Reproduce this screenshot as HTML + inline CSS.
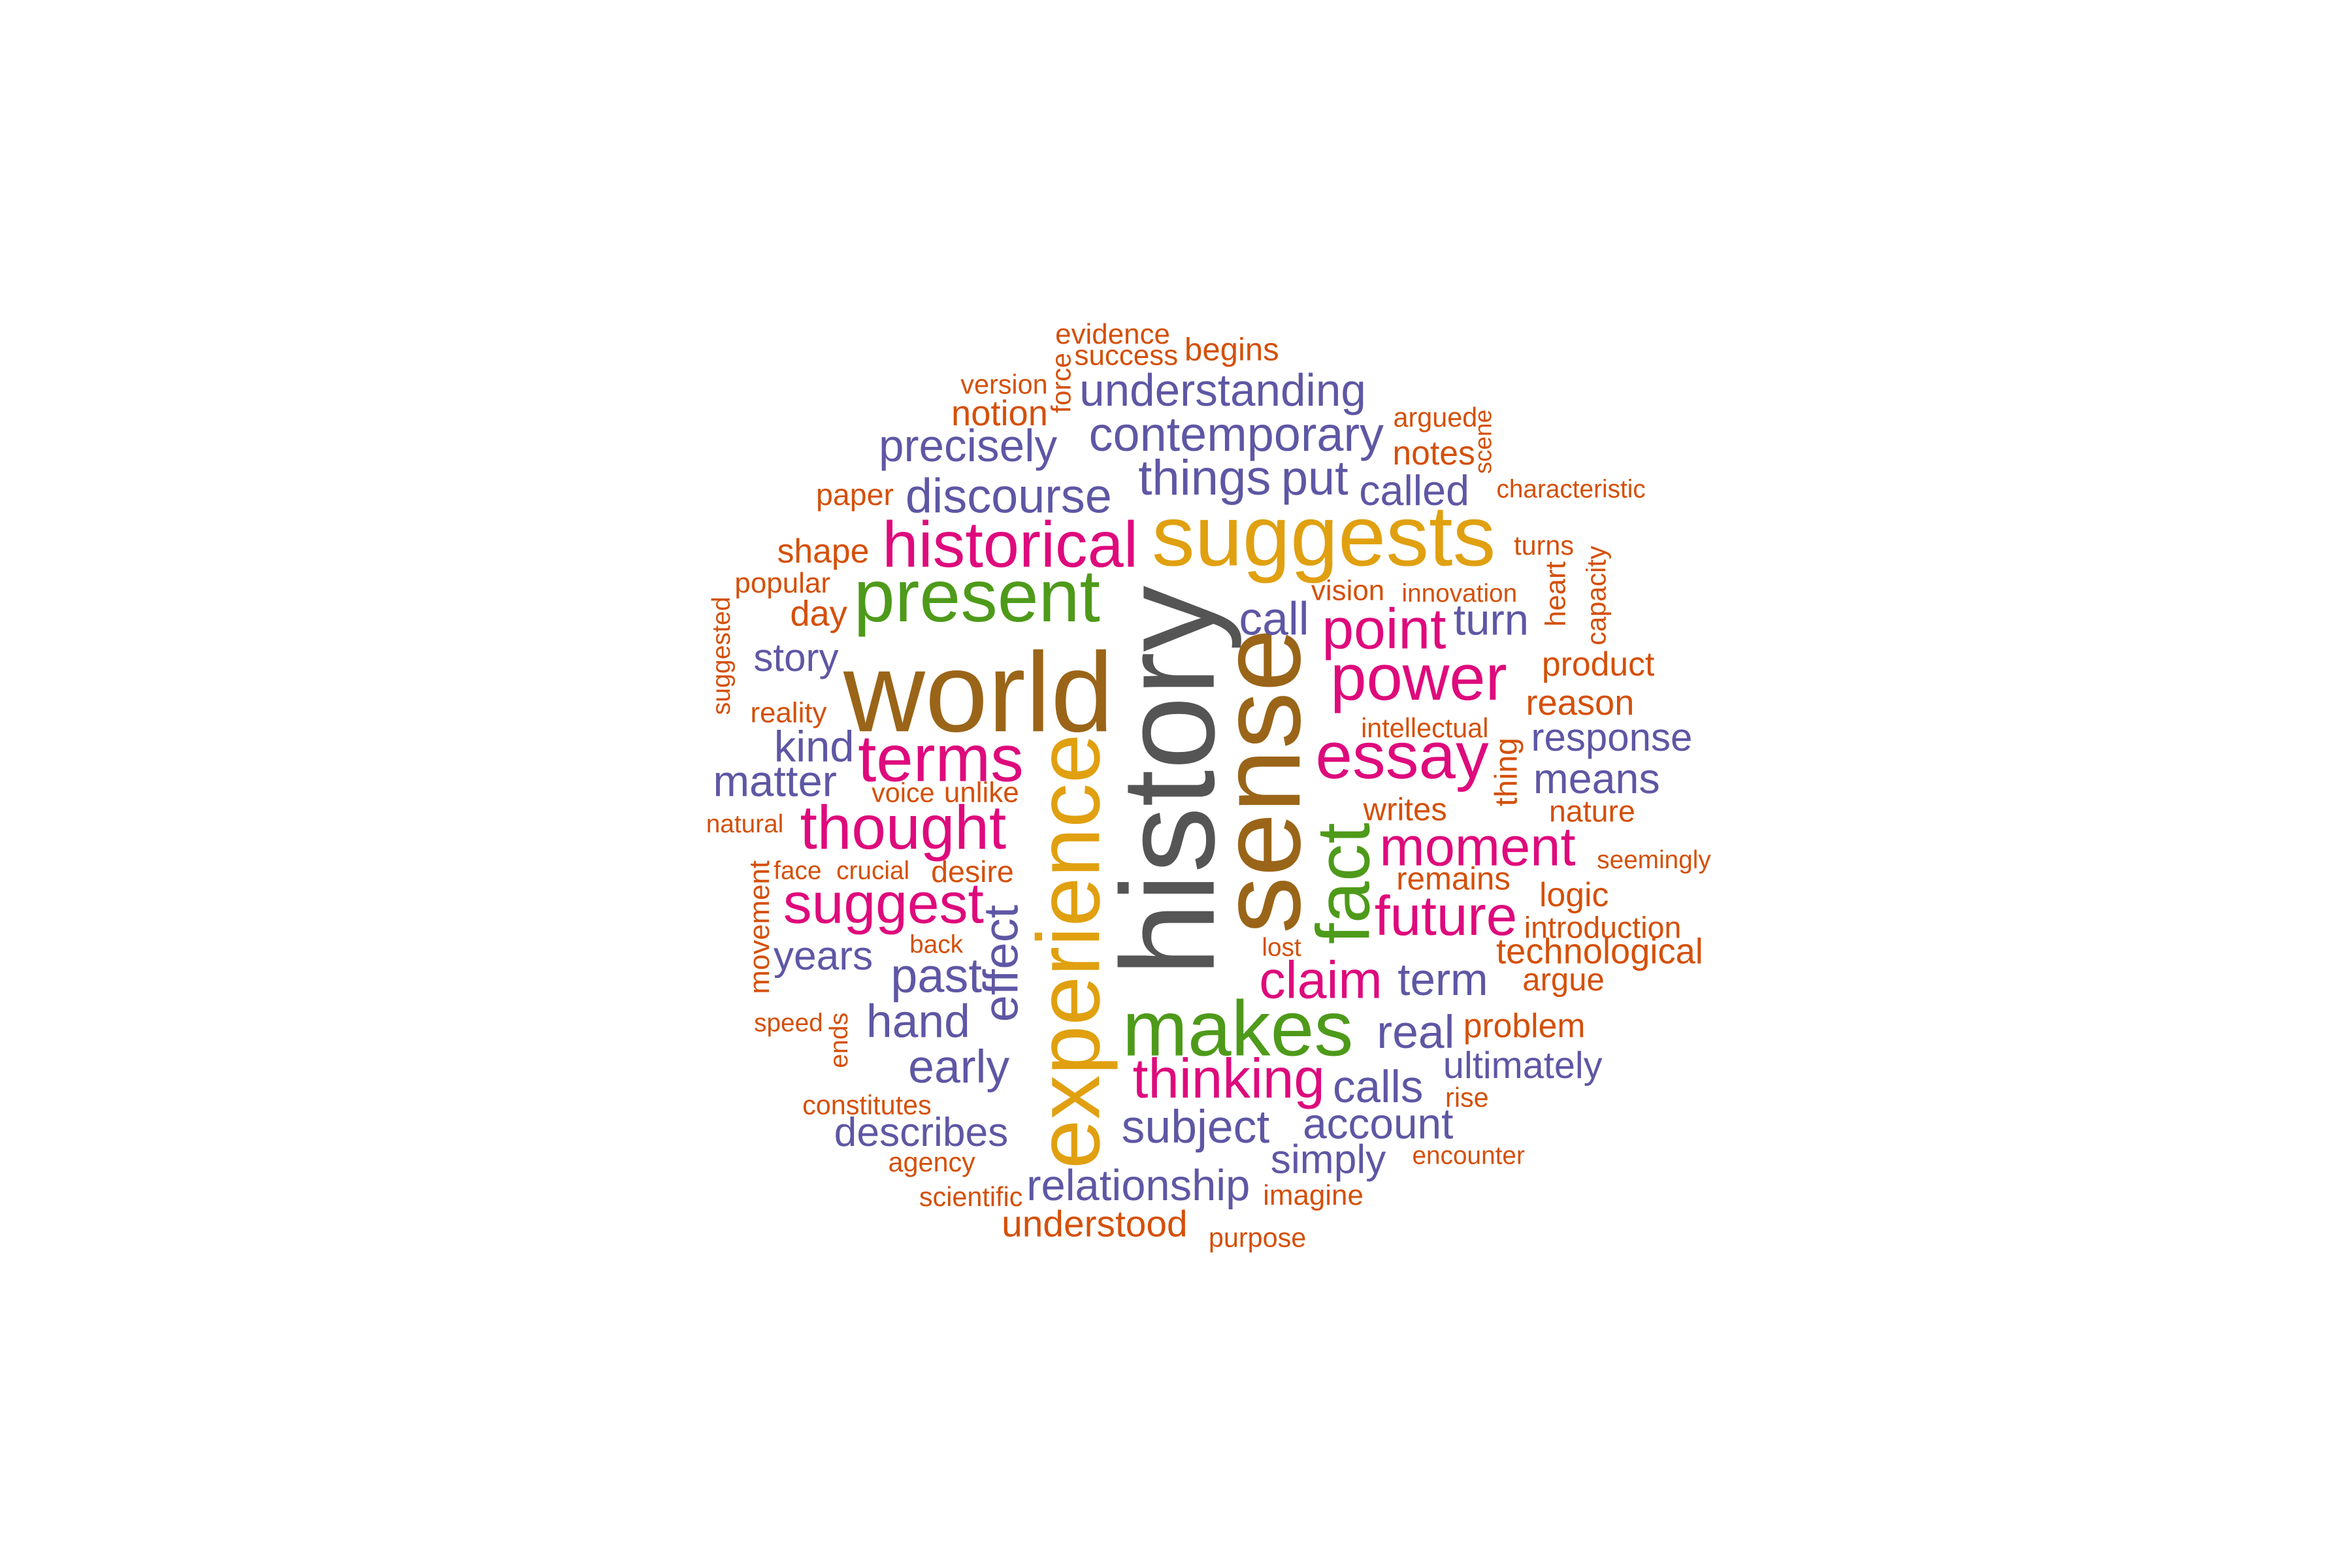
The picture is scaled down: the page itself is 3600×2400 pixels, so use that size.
<!DOCTYPE html>
<html><head><meta charset="utf-8"><title>Word cloud</title>
<style>html,body{margin:0;padding:0;background:#fff;}svg{display:block;}</style>
</head><body>
<svg id="cloud" width="3600" height="2400" viewBox="0 0 1560 1040" xmlns="http://www.w3.org/2000/svg">
<rect width="1560" height="1040" fill="#ffffff"/>
<g id="words" transform="translate(-3,-2)"></g>
</svg>
<script>
const words = ["history","sense","world","suggests","experience","makes","present","fact","historical","terms","thought","power","essay","point","moment","future","suggest","claim","thinking","effect","call","understanding","contemporary","things","put","called","precisely","discourse","turn","story","kind","matter","years","past","hand","early","term","real","calls","subject","account","simply","relationship","describes","response","means","ultimately","evidence","success","begins","force","version","notion","argued","scene","notes","characteristic","paper","shape","turns","popular","vision","innovation","heart","capacity","day","suggested","product","reality","reason","intellectual","thing","voice","unlike","natural","writes","nature","seemingly","face","crucial","desire","movement","remains","logic","introduction","back","lost","technological","argue","speed","ends","problem","rise","constitutes","agency","encounter","scientific","imagine","understood","purpose"];
const counts = [88,76,75,57,59,52,49,50,43,44,41,43,44,38,36,37,38,35,37,32,31,30,32,33,32,28,30,32,29,26,29,29,27,32,31,31,30,31,30,31,28.5,27,29,27,26,28,25,17,17,19,18,16,21,16,16,20,15,18,20,16,17,17,15,19,18,21,17,20,17,21,16,21,16,17,15,19,18,15,15,15,18,19,19,20,18,15,15,21,19,15,17,20,16,16,16,15,16,17,22,16];
const groups = [7,6,6,5,5,4,4,4,3,3,3,3,3,3,3,3,3,3,3,2,2,2,2,2,2,2,2,2,2,2,2,2,2,2,2,2,2,2,2,2,2,2,2,2,2,2,2,1,1,1,1,1,1,1,1,1,1,1,1,1,1,1,1,1,1,1,1,1,1,1,1,1,1,1,1,1,1,1,1,1,1,1,1,1,1,1,1,1,1,1,1,1,1,1,1,1,1,1,1,1];
const rotated = [1,1,0,0,1,0,0,1,0,0,0,0,0,0,0,0,0,0,0,1,0,0,0,0,0,0,0,0,0,0,0,0,0,0,0,0,0,0,0,0,0,0,0,0,0,0,0,0,0,0,1,0,0,0,1,0,0,0,0,0,0,0,0,1,1,0,1,0,0,0,0,1,0,0,0,0,0,0,0,0,0,1,0,0,0,0,0,0,0,0,1,0,0,0,0,0,0,0,0,0];
const layoutX = [808,865,652,881,732,824,651,911,673,627,602,944,933,921,983,962,589,879,818,678,848,814,823,802,875,941,645,672,992,531,543,517,549,624,612,639,960,942,917,796,917,884,758,614,1072,1062,1013,741,750,820,713,669,666,955,992,954,1045,570,549,1027,522,897,971,1041,1068,546,487,1063,526,1051,948,1009,602,654,497,935,1059,1100,532,582,648,513,967,1047,1066,624,853,1064,1040,526,565,1014,976,578,621,977,647,874,729,837];
const layoutY = [520,520,487,377,633,702,414,588,378,520,565,466,518,432,576,622,614,664,730,641,423,271,301,330,330,337,308,342,423,447,507,530,645,660,690,720,662,697,733,760,757,780,798,762,500,528,717,230,244,241,256,263,284,285,295,310,332,337,375,370,395,400,401,396,397,417,437,450,481,476,491,514,534,534,554,546,547,578,585,585,587,617,592,603,624,634,636,641,659,686,692,690,736,741,779,774,802,801,822,829];
const palette = {1:"#D4500A",2:"#5E57A4",3:"#DE0A7C",4:"#4E9A1A",5:"#E0A010",6:"#9A6518",7:"#555555"};
const g = document.getElementById('words');
const NS = "http://www.w3.org/2000/svg";
function sizeScale(c, grp, rot) { return (grp === 1 && !rot) ? c * 1.12 : c; }
for (let i = 0; i < words.length; i++) {
  const t = document.createElementNS(NS, 'text');
  
  
  t.setAttribute('font-family', '"Liberation Sans", Arial, sans-serif');
  t.setAttribute('font-size', sizeScale(counts[i], groups[i], rotated[i]));
  t.setAttribute('fill', palette[groups[i]]);
  t.setAttribute('text-anchor', 'middle');
  if (rotated[i]) {
    t.setAttribute('transform', 'translate(' + layoutX[i] + ',' + layoutY[i] + ') rotate(-90)');
    t.setAttribute('x', 0); t.setAttribute('y', 0);
  } else {
    t.setAttribute('x', layoutX[i]); t.setAttribute('y', layoutY[i]);
  }
  t.textContent = words[i];
  g.appendChild(t);
}
</script>
</body></html>
